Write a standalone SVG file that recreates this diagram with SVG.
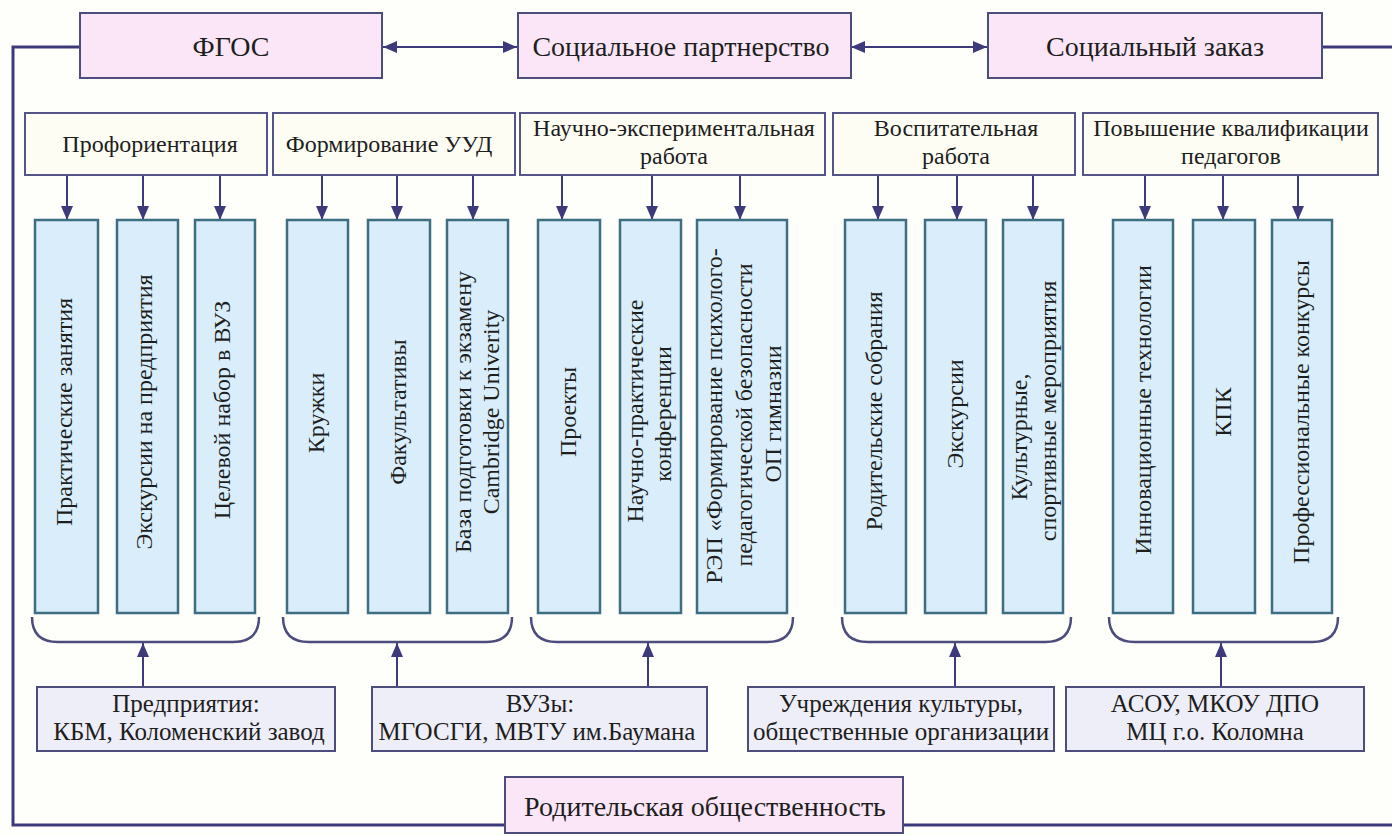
<svg xmlns="http://www.w3.org/2000/svg" width="1392" height="836" viewBox="0 0 1392 836" font-family="'Liberation Serif', 'Times New Roman', serif">
<defs>
<style>
.bg{fill:#fefefb}
.top{fill:#fae6f6;stroke:#4d4d7d;stroke-width:2}
.cat{fill:#fdfdf3;stroke:#55558a;stroke-width:2}
.col{fill:#d9eefa;stroke:#3d6e82;stroke-width:2.5}
.bot{fill:#eeeef9;stroke:#4d4d7d;stroke-width:2}
.t{fill:#1e1e1e;text-anchor:middle}
.t28{font-size:28px}
.t24{font-size:24px}
.t25{font-size:25px}
.v{fill:#1e1e1e;text-anchor:middle;dominant-baseline:central;font-size:24px}
.ln{fill:none;stroke:#3c3a7a;stroke-width:3}
.ar{fill:none;stroke:#3c3a7a;stroke-width:2}
.br{fill:none;stroke:#4d4d7d;stroke-width:2.5}
</style>
<marker id="ah" viewBox="0 0 14 12" refX="14" refY="6" markerWidth="14" markerHeight="12" markerUnits="userSpaceOnUse" orient="auto-start-reverse">
<path d="M0,0 L14,6 L0,12 z" fill="#3c3a7a"/>
</marker>
</defs>
<rect class="bg" x="0" y="0" width="1392" height="836"/>

<g id="connectors">
<path class="ln" d="M80,47 H13 V825 H505"/>
<path class="ln" d="M1322,47 H1392"/>
<path class="ln" d="M903,825 H1392"/>
<path class="ar" d="M383,47 H517" marker-start="url(#ah)" marker-end="url(#ah)"/>
<path class="ar" d="M851,47 H987" marker-start="url(#ah)" marker-end="url(#ah)"/>
<path class="ar" d="M67,175 V220" marker-end="url(#ah)"/>
<path class="ar" d="M143,175 V220" marker-end="url(#ah)"/>
<path class="ar" d="M220,175 V220" marker-end="url(#ah)"/>
<path class="ar" d="M322,175 V220" marker-end="url(#ah)"/>
<path class="ar" d="M397,175 V220" marker-end="url(#ah)"/>
<path class="ar" d="M473,175 V220" marker-end="url(#ah)"/>
<path class="ar" d="M562,175 V220" marker-end="url(#ah)"/>
<path class="ar" d="M652,175 V220" marker-end="url(#ah)"/>
<path class="ar" d="M740,175 V220" marker-end="url(#ah)"/>
<path class="ar" d="M878,175 V220" marker-end="url(#ah)"/>
<path class="ar" d="M957,175 V220" marker-end="url(#ah)"/>
<path class="ar" d="M1033,175 V220" marker-end="url(#ah)"/>
<path class="ar" d="M1145,175 V220" marker-end="url(#ah)"/>
<path class="ar" d="M1223,175 V220" marker-end="url(#ah)"/>
<path class="ar" d="M1298,175 V220" marker-end="url(#ah)"/>
<path class="ar" d="M143,687 V643" marker-end="url(#ah)"/>
<path class="ar" d="M397,687 V643" marker-end="url(#ah)"/>
<path class="ar" d="M648,687 V643" marker-end="url(#ah)"/>
<path class="ar" d="M955,687 V643" marker-end="url(#ah)"/>
<path class="ar" d="M1221,687 V643" marker-end="url(#ah)"/>
</g>

<g id="braces">
<path class="br" d="M32,617 Q32,642 58,642 H233 Q259,642 259,617"/>
<path class="br" d="M283,617 Q283,642 309,642 H486 Q512,642 512,617"/>
<path class="br" d="M531,617 Q531,642 557,642 H767 Q793,642 793,617"/>
<path class="br" d="M842,617 Q842,642 868,642 H1045 Q1071,642 1071,617"/>
<path class="br" d="M1109,617 Q1109,642 1135,642 H1312 Q1338,642 1338,617"/>
</g>

<g id="fgos"><rect class="top" x="80" y="13" width="302" height="65"/><text class="t t28" x="231" y="56">ФГОС</text></g>
<g id="social-partnership"><rect class="top" x="518" y="13" width="333" height="65"/><text class="t t28" x="681" y="56" font-size="29">Социальное партнерство</text></g>
<g id="social-order"><rect class="top" x="988" y="13" width="334" height="65"/><text class="t t28" x="1155" y="56">Социальный заказ</text></g>

<g id="cat-proforientation"><rect class="cat" x="25" y="113" width="242" height="62"/><text class="t t24" x="150" y="152">Профориентация</text></g>
<g id="cat-uud"><rect class="cat" x="273" y="113" width="242" height="62"/><text class="t t24" x="389" y="152">Формирование УУД</text></g>
<g id="cat-science"><rect class="cat" x="520" y="113" width="305" height="62"/><text class="t t24" x="674" y="136">Научно-экспериментальная</text><text class="t t24" x="674" y="164">работа</text></g>
<g id="cat-upbringing"><rect class="cat" x="833" y="113" width="242" height="62"/><text class="t t24" x="956" y="136">Воспитательная</text><text class="t t24" x="956" y="164">работа</text></g>
<g id="cat-qualification"><rect class="cat" x="1083" y="113" width="295" height="62"/><text class="t t24" x="1231" y="136">Повышение квалификации</text><text class="t t24" x="1231" y="164">педагогов</text></g>

<g id="col-practice"><rect class="col" x="35" y="220" width="63" height="393"/><text class="v" transform="translate(64,412) rotate(-90)">Практические занятия</text></g>
<g id="col-excursions-ent"><rect class="col" x="117" y="220" width="61" height="393"/><text class="v" transform="translate(144,412) rotate(-90)">Экскурсии на предприятия</text></g>
<g id="col-target"><rect class="col" x="195" y="220" width="60" height="393"/><text class="v" transform="translate(222,410) rotate(-90)">Целевой набор в ВУЗ</text></g>
<g id="col-clubs"><rect class="col" x="287" y="220" width="61" height="393"/><text class="v" transform="translate(316,413) rotate(-90)">Кружки</text></g>
<g id="col-electives"><rect class="col" x="368" y="220" width="62" height="393"/><text class="v" transform="translate(398,412) rotate(-90)">Факультативы</text></g>
<g id="col-cambridge"><rect class="col" x="447" y="220" width="61" height="393"/><text class="v" transform="translate(463,412) rotate(-90)">База подготовки к экзамену</text><text class="v" transform="translate(491,412) rotate(-90)">Cambridge Univerity</text></g>
<g id="col-projects"><rect class="col" x="538" y="220" width="62" height="393"/><text class="v" transform="translate(568,412) rotate(-90)">Проекты</text></g>
<g id="col-conferences"><rect class="col" x="620" y="220" width="61" height="393"/><text class="v" transform="translate(635,411) rotate(-90)">Научно-практические</text><text class="v" transform="translate(663,414) rotate(-90)">конференции</text></g>
<g id="col-rep"><rect class="col" x="697" y="220" width="90" height="393"/><text class="v" transform="translate(714,416) rotate(-90)">РЭП «Формирование психолого-</text><text class="v" transform="translate(744,415) rotate(-90)">педагогической безопасности</text><text class="v" transform="translate(773,414) rotate(-90)">ОП гимназии</text></g>
<g id="col-parent-meetings"><rect class="col" x="845" y="220" width="61" height="393"/><text class="v" transform="translate(874,411) rotate(-90)">Родительские собрания</text></g>
<g id="col-excursions"><rect class="col" x="925" y="220" width="61" height="393"/><text class="v" transform="translate(955,414) rotate(-90)">Экскурсии</text></g>
<g id="col-cultural"><rect class="col" x="1003" y="220" width="60" height="393"/><text class="v" transform="translate(1019,437) rotate(-90)">Культурные,</text><text class="v" transform="translate(1048,411) rotate(-90)">спортивные мероприятия</text></g>
<g id="col-innovations"><rect class="col" x="1113" y="220" width="60" height="393"/><text class="v" transform="translate(1143,410) rotate(-90)">Инновационные технологии</text></g>
<g id="col-kpk"><rect class="col" x="1193" y="220" width="62" height="393"/><text class="v" transform="translate(1223,412) rotate(-90)">КПК</text></g>
<g id="col-contests"><rect class="col" x="1272" y="220" width="60" height="393"/><text class="v" transform="translate(1301,412) rotate(-90)">Профессиональные конкурсы</text></g>

<g id="b-enterprises"><rect class="bot" x="37" y="687" width="298" height="64"/><text class="t t25" x="186" y="712">Предприятия:</text><text class="t t25" x="189" y="740">КБМ, Коломенский завод</text></g>
<g id="b-universities"><rect class="bot" x="372" y="687" width="335" height="64"/><text class="t t25" x="540" y="712">ВУЗы:</text><text class="t t25" x="537" y="740">МГОСГИ, МВТУ им.Баумана</text></g>
<g id="b-culture"><rect class="bot" x="748" y="687" width="306" height="64"/><text class="t t25" x="901" y="712">Учреждения культуры,</text><text class="t t25" x="901" y="740">общественные организации</text></g>
<g id="b-asou"><rect class="bot" x="1066" y="687" width="298" height="64"/><text class="t t25" x="1215" y="712">АСОУ, МКОУ ДПО</text><text class="t t25" x="1215" y="740">МЦ г.о. Коломна</text></g>

<g id="parents"><rect class="top" x="505" y="777" width="398" height="56"/><text class="t t28" x="705" y="816">Родительская общественность</text></g>
</svg>
